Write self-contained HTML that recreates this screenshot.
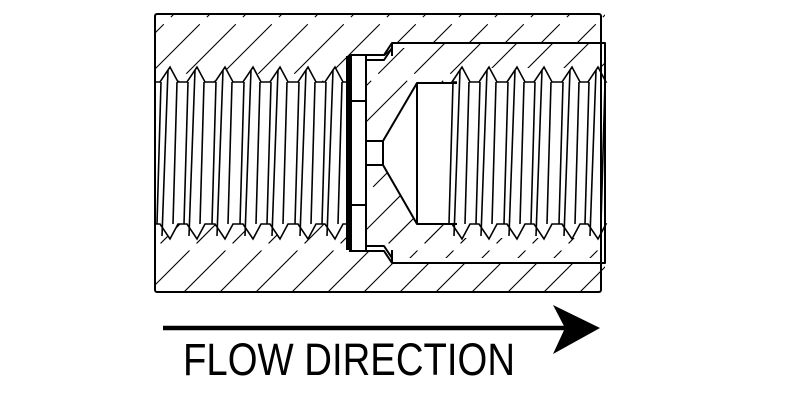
<!DOCTYPE html>
<html><head><meta charset="utf-8"><style>
html,body{margin:0;padding:0;background:#fff;width:800px;height:400px;overflow:hidden}
svg{display:block}
</style></head><body>
<svg id="s" width="800" height="400" viewBox="0 0 800 400" xmlns="http://www.w3.org/2000/svg">
<defs>
<clipPath id="body"><rect x="155" y="14" width="450" height="279"/></clipPath>
</defs>
<g id="hatch" clip-path="url(#body)" stroke="#000" stroke-width="1.1" stroke-dasharray="70 10"></g>
<g id="white" fill="#fff" stroke="none">
<polygon points="349,56 392,56 392,43 410,43 410,263 392,263 392,250 349,250"/>
<rect x="410" y="43" width="195" height="220"/>
</g>
<g id="hatch2" stroke="#000" stroke-width="1.1" stroke-dasharray="70 10"></g>
<g id="thr" stroke="#000" stroke-width="1.6" fill="none"></g>
<g stroke="#000" stroke-width="2" fill="none" stroke-linejoin="round">
<rect x="155" y="14" width="446" height="278" rx="2"/>
<polyline points="366,60 384,60 392,48"/>
<polyline points="366,246 384,246 392,258"/>
<polyline points="349,55 384,55 392,43 605,43 605,263 392,263 384,251 349,251"/>
<line x1="392" y1="43" x2="392" y2="56"/>
<line x1="392" y1="250" x2="392" y2="263"/>
<line x1="366" y1="56" x2="366" y2="250"/>
<line x1="366" y1="101" x2="349" y2="101"/>
<line x1="366" y1="205" x2="349" y2="205"/>
<polyline points="366,141 383,141 417,83 457,83"/>
<polyline points="366,165 383,165 417,224 457,224"/>
<line x1="383" y1="141" x2="383" y2="165"/>
<line x1="417" y1="83" x2="417" y2="224"/>
</g>
<rect x="346" y="56" width="6" height="194" fill="#000"/>
<line x1="163" y1="328" x2="565" y2="328" stroke="#000" stroke-width="4.5"/>
<polygon points="600,328 553,305 565,328 553,354" fill="#000"/>
<text x="183" y="375" font-family="Liberation Sans, sans-serif" font-size="45" textLength="332" lengthAdjust="spacingAndGlyphs">FLOW DIRECTION</text>
</svg>
<script>
var NS="http://www.w3.org/2000/svg";
function el(p,n,a){var e=document.createElementNS(NS,n);for(var k in a)e.setAttribute(k,a[k]);p.appendChild(e);return e;}
var h=document.getElementById('hatch');
for(var c=-400;c<1100;c+=36){el(h,'line',{x1:c,y1:300,x2:c+300,y2:0});}
var h2=document.getElementById('hatch2');
var g2=el(h2,'g',{});
var cp=el(document.querySelector('defs'),'clipPath',{id:'mid'});
el(cp,'polygon',{points:'366,60 384,60 392,48 410,48 410,43 605,43 605,68 457,68 457,83 417,83 383,141 366,141'});
el(cp,'polygon',{points:'366,246 384,246 392,258 605,258 605,238 457,238 457,224 417,224 383,165 366,165'});
g2.setAttribute('clip-path','url(#mid)');
for(var c=-400;c<1100;c+=36){el(g2,'line',{x1:c+12,y1:300,x2:c+312,y2:0});}
var t=document.getElementById('thr');
var W=document.getElementById('s');
function thread(x0,x1,peaks){
 var top=[],bot=[];
 for(var i=0;i<peaks.length;i++){var p=peaks[i];
  top.push((p-10)+',82',p+',67',(p+8)+',82');
  bot.push((p-10)+',224',p+',239',(p+8)+',224');
 }
 var tp=x0+',82 '+top.join(' ')+' '+x1+',82';
 var bp=x0+',224 '+bot.join(' ')+' '+x1+',224';
 var poly=el(W,'polygon',{points:tp+' '+bp.split(' ').reverse().join(' '),fill:'#fff',stroke:'none'});
 W.insertBefore(poly,t);
 el(t,'polyline',{points:tp});
 el(t,'polyline',{points:bp});
 for(var i=0;i<peaks.length;i++){var p=peaks[i];
  el(t,'line',{x1:p-2,y1:70,x2:p-8,y2:236});
  el(t,'line',{x1:p+7,y1:82,x2:p+3,y2:224});
  el(t,'line',{x1:p-9,y1:82,x2:p-13,y2:224});
 }
}
thread(155,349,[170,197,225,253,280,308,335]);
thread(457,605,[462,489,517,544,572,598]);
</script>
</body></html>
